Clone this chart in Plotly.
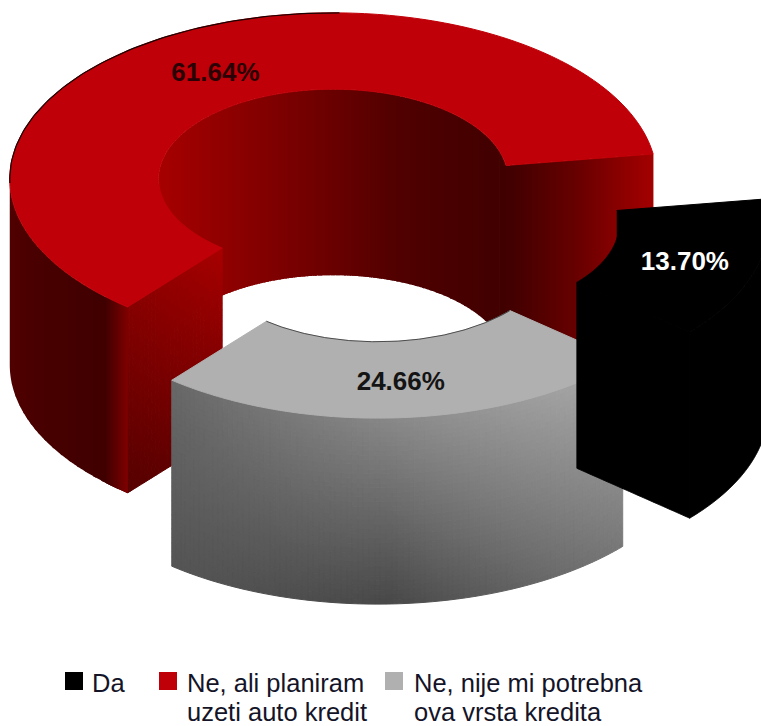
import numpy as np
import plotly.graph_objects as go

# data
categories = [["Da"], ["Ne, ali planiram", "uzeti auto kredit"], ["Ne, nije mi potrebna", "ova vrsta kredita"]]
values = [13.70, 61.64, 24.66]
labels = ["13.70%", "61.64%", "24.66%"]

# geometry of the 3D exploded ring (pixels on the hidden axes)
CX, CY = 371.0, 213.0
RX, RY = 323.5, 166.0
HEIGHT = 186.0
HOLE = 0.54
EXPLODE = 76.5
START_DEG = 8.6
W, H = 761, 726

# legend layout
key_x = [74, 168, 394]
text_left = [92, 187, 414]
key_y = 681
line_tops = [669, 698]
LEGEND_SIZE = 25.5

# slices go counter-clockwise: red, grey, black
order = [1, 2, 0]
top_cols = {0: "#000000", 1: "#c00008", 2: "#b0b0b0"}
key_cols = {0: "#000000", 1: "#c00008", 2: "#b0b0b0"}
text_cols = {0: "#ffffff", 1: "#2a0006", 2: "#141414"}
label_nudge = {0: (1, 0), 1: (5, 3), 2: (2, 0)}


def lerp_stops(x, stops):
    xs, vs = zip(*stops)
    return float(np.interp(x, xs, vs))


def red(v):
    v = int(round(v))
    return f"rgb({min(v,255)},0,0)"


def grey(v):
    v = int(round(v))
    return f"rgb({v},{v},{v})"


def col_outer(k, x, v):
    if k == 0:
        return "#000000"
    if k == 1:
        return red(lerp_stops(x, [(10, 0x50), (40, 0x48), (105, 0x40), (128, 0x80)]))
    top = lerp_stops(x, [(172, 0x68), (390, 0x88), (623, 0xaa)])
    bot = lerp_stops(x, [(172, 0x55), (390, 0x48), (623, 0x78)])
    return grey(top + (bot - top) * v)


def col_inner(k, x):
    if k == 0:
        return "#000000"
    return red(lerp_stops(x, [(165, 0xa4), (300, 0x76), (400, 0x50), (510, 0x40)]))


def col_cut(k, x, v, side):
    if k == 0:
        return "#000000"
    if side == 0:
        return red(lerp_stops(x, [(510, 0x42), (577, 0x68), (640, 0x9a), (660, 0xa8)]))
    b = lerp_stops(x, [(128, 0x85), (222, 0xa8)])
    return red(b * (1 - 0.35 * v))


def poly(fig, xs, ys, col, stroke=0.0):
    fig.add_trace(go.Scatter(x=xs, y=ys, mode="lines", fill="toself", fillcolor=col,
                             line=dict(color=col, width=stroke, simplify=False),
                             hoverinfo="skip", showlegend=False))


class Layer:
    """Quads that share a colour go in one trace."""

    def __init__(self):
        self.groups = {}

    def add(self, col, pts):
        g = self.groups.setdefault(col, ([], []))
        g[0].extend([q[0] for q in pts] + [pts[0][0], None])
        g[1].extend([q[1] for q in pts] + [pts[0][1], None])

    def flush(self, fig):
        for col, (xs, ys) in self.groups.items():
            poly(fig, xs, ys, col, 1)
        self.groups = {}


def overlap_strips(fig, edges, colour_of, edge_pts, stroke=0):
    """Paint strips in order, each one running past its own end, so no seams show."""
    runs = []
    for i in range(len(edges) - 1):
        c = colour_of((edges[i] + edges[i + 1]) / 2)
        if runs and runs[-1][0] == c:
            runs[-1][2] = i + 1
        else:
            runs.append([c, i, i + 1])
    for c, i0, i1 in runs:
        end = min(i1 + 3, len(edges) - 1)
        t = edges[i0:end + 1]
        top = [edge_pts(a, 0) for a in t]
        bot = [edge_pts(a, 1) for a in t[::-1]]
        pts = top + bot + [top[0]]
        poly(fig, [q[0] for q in pts], [q[1] for q in pts], c, stroke)


fig = go.Figure()
total = sum(values)
angle = START_DEG
text_x, text_y, text_s, text_c = [], [], [], []

for k in order:
    a0 = angle
    a1 = angle + values[k] / total * 360
    angle = a1
    mid = np.radians((a0 + a1) / 2)
    ox = CX + EXPLODE * np.cos(mid)
    oy = CY - EXPLODE * np.sin(mid) * RY / RX
    strip_stroke = 1 if k == 0 else 0

    def px(a_deg, r, h=0.0):
        a = np.radians(a_deg)
        return ox + r * RX * np.cos(a), oy - r * RY * np.sin(a) + h * HEIGHT

    angs = np.arange(a0, a1 + 0.125, 0.25)
    angs[-1] = a1

    # inner wall (far side only)
    vis = angs[np.sin(np.radians(angs)) >= 0]
    if len(vis) > 1:
        overlap_strips(fig, vis, lambda m: col_inner(k, px(m, HOLE)[0]),
                       lambda a, h: px(a, HOLE, h), strip_stroke)

    # cut faces
    for side, (aa, normal) in enumerate(((a0, a0 - 90), (a1, a1 + 90))):
        if np.sin(np.radians(normal)) >= 0:
            continue
        rs = np.linspace(HOLE, 1, 121)
        if side == 0:
            overlap_strips(fig, rs, lambda r: col_cut(k, px(aa, r)[0], 0, 0),
                           lambda r, h: px(aa, r, h), strip_stroke)
        else:
            L = Layer()
            rs2 = np.linspace(HOLE, 1, 41)
            vv = np.linspace(0, 1, 31) if k == 1 else np.array([0.0, 1.0])
            for j in range(len(vv) - 1):
                for i in range(len(rs2) - 1):
                    c = col_cut(k, px(aa, (rs2[i] + rs2[i + 1]) / 2)[0], (vv[j] + vv[j + 1]) / 2, 1)
                    L.add(c, [px(aa, rs2[i], vv[j]), px(aa, rs2[i + 1], vv[j]),
                              px(aa, rs2[i + 1], vv[j + 1]), px(aa, rs2[i], vv[j + 1])])
            L.flush(fig)

    # outer wall (near side only)
    vis = angs[np.sin(np.radians(angs)) <= 0]
    if k == 2:
        L = Layer()
        vs = np.linspace(0, 1, 41)
        coarse = np.arange(a0, a1 + 0.5, 1.0)
        coarse[-1] = a1
        for i in range(len(coarse) - 1):
            m = (coarse[i] + coarse[i + 1]) / 2
            for j in range(len(vs) - 1):
                c = col_outer(k, px(m, 1)[0], (vs[j] + vs[j + 1]) / 2)
                L.add(c, [px(coarse[i], 1, vs[j]), px(coarse[i + 1], 1, vs[j]),
                          px(coarse[i + 1], 1, vs[j + 1]), px(coarse[i], 1, vs[j + 1])])
        L.flush(fig)
    elif len(vis) > 1:
        overlap_strips(fig, vis, lambda m: col_outer(k, px(m, 1)[0], 0.5),
                       lambda a, h: px(a, 1, h), strip_stroke)

    # top face
    fine = np.linspace(a0, a1, 200)
    tx, ty = px(fine, 1.0)
    ix, iy = px(fine[::-1], HOLE)
    poly(fig, np.r_[tx, ix, tx[0]], np.r_[ty, iy, ty[0]], top_cols[k], 1)

    # thin dark edges
    if k == 1:
        e = fine[(fine > 88) & (fine < 182)]
        ex, ey = px(e, 1.0)
        fig.add_trace(go.Scatter(x=ex, y=ey, mode="lines", line=dict(color="#1a0000", width=1.2),
                                 hoverinfo="skip", showlegend=False))
    if k == 2:
        ex, ey = px(fine, HOLE)
        fig.add_trace(go.Scatter(x=ex, y=ey, mode="lines", line=dict(color="#303030", width=0.8),
                                 hoverinfo="skip", showlegend=False))

    lx, ly = px((a0 + a1) / 2, 0.77)
    text_x.append(lx + label_nudge[k][0]); text_y.append(ly + 4 + label_nudge[k][1])
    text_s.append(labels[k]); text_c.append(text_cols[k])

fig.add_trace(go.Scatter(x=text_x, y=text_y, text=text_s, mode="text", textposition="middle center",
                         textfont=dict(family="Liberation Sans", size=26, color=text_c, weight="bold"),
                         hoverinfo="skip", showlegend=False))

# legend keys and texts
fig.add_trace(go.Scatter(x=key_x, y=[key_y] * 3, mode="markers", hoverinfo="skip", showlegend=False,
                         marker=dict(symbol="square", size=18, color=[key_cols[k] for k in range(3)])))
for k in range(3):
    for n, line in enumerate(categories[k]):
        fig.add_annotation(x=text_left[k], y=line_tops[n], text=line, showarrow=False, xanchor="left",
                           yanchor="top", align="left", xref="x", yref="y", borderpad=0, borderwidth=0,
                           font=dict(family="Liberation Sans", size=LEGEND_SIZE, color="#141428"))

fig.update_layout(
    width=W, height=H, margin=dict(l=0, r=0, t=0, b=0),
    paper_bgcolor="white", plot_bgcolor="white", showlegend=False,
    xaxis=dict(range=[0, W], visible=False),
    yaxis=dict(range=[H, 0], visible=False),
)
fig.write_html("out.html", post_script="document.body.style.margin='0';",
               config=dict(displayModeBar=False))
